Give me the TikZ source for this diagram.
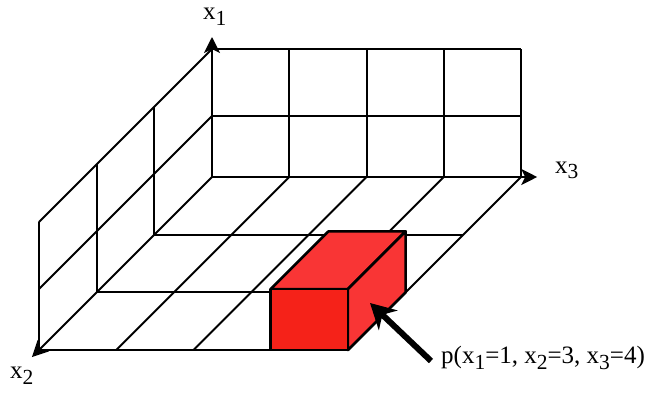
\documentclass[tikz,border=0pt]{standalone}
\usepackage{fontspec}
\setmainfont{Liberation Serif}
\usetikzlibrary{arrows.meta}
\newcommand\sbs[1]{\raisebox{-6pt}{\fontsize{21.5}{21.5}\selectfont #1}}
\definecolor{boxfront}{HTML}{F52219}
\definecolor{boxside}{HTML}{F93535}
\begin{document}
\begin{tikzpicture}[
  x={(77.25pt,0pt)}, y={(-57.7pt,-57.7pt)}, z={(0pt,1pt)},
  gridline/.style={line width=2pt, black},
  axisline/.style={line width=2pt, black, -{Stealth[length=16pt,width=16pt,inset=4pt]}},
  boxface/.style={line width=2.5pt, black, line join=round},
  lbl/.style={inner sep=0pt, anchor=base west, font=\fontsize{25}{25}\selectfont},
  pointer/.style={line width=6pt, black, -{Stealth[length=25pt,width=27pt,inset=8pt]}}
]
\path[use as bounding box] (-212pt,177pt) rectangle (435pt,-219pt);
% back wall
\foreach \c in {1,...,4} \draw[gridline] (\c,0,0) -- (\c,0,128);
\foreach \a in {61,128} \draw[gridline] (0,0,\a) -- (4,0,\a);
% left wall
\foreach \a in {61,128} \draw[gridline] (0,0,\a) -- (0,3,\a);
\foreach \b in {1,2,3} \draw[gridline] (0,\b,0) -- (0,\b,128);
% floor
\foreach \c in {1,...,4} \draw[gridline] (\c,0,0) -- (\c,3,0);
\foreach \b in {1,2,3} \draw[gridline] (0,\b,0) -- (4,\b,0);
% axes
\coordinate (O) at (0,0,0);
\coordinate (x1tip) at (0,0,140);
\coordinate (x2tip) at (0,3.12,0);
\coordinate (x3tip) at (4.21,0,0);
\draw[axisline] (O) -- (x1tip);
\draw[axisline] (O) -- (x2tip);
\draw[axisline] (O) -- (x3tip);
% box
\draw[boxface, fill=boxside] (3,3,61) -- (4,3,61) -- (4,2,61) -- (3,2,61) -- cycle;
\draw[boxface, fill=boxside] (4,3,0) -- (4,2,0) -- (4,2,61) -- (4,3,61) -- cycle;
\draw[boxface, fill=boxfront] (3,3,0) -- (4,3,0) -- (4,3,61) -- (3,3,61) -- cycle;
% labels
\node[lbl] (lx1) at (-9pt,157pt) {x\sbs{1}};
\node[lbl] (lx2) at (-202pt,-201pt) {x\sbs{2}};
\node[lbl] (lx3) at (343pt,4pt) {x\sbs{3}};
\node[lbl] (lp) at (229pt,-186pt) {p(x\sbs{1}=1, x\sbs{2}=3, x\sbs{3}=4)};
% pointer
\coordinate (ptail) at (219pt,-184pt);
\coordinate (ptip) at (158pt,-126pt);
\draw[pointer] (ptail) -- (ptip);
\end{tikzpicture}
\end{document}
